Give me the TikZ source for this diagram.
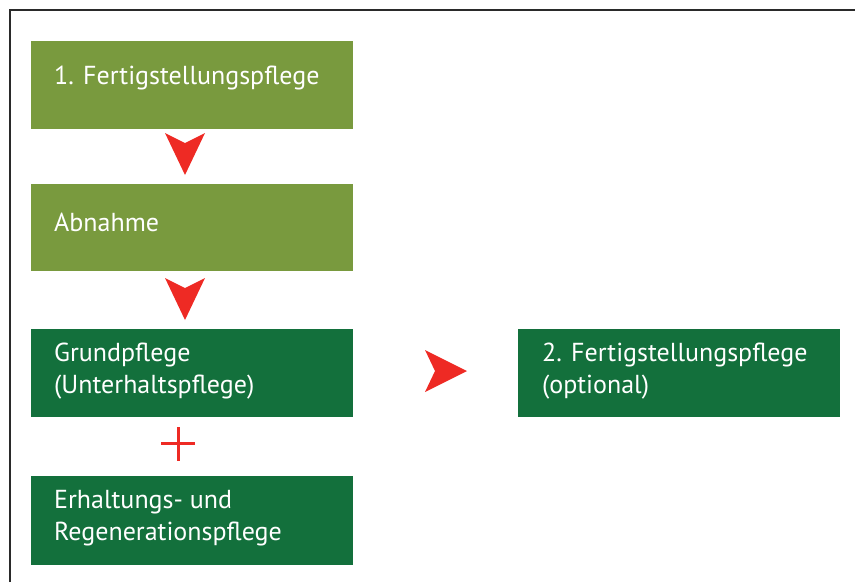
\documentclass[tikz,border=0pt]{standalone}
\usepackage{fontspec}
\setmainfont{PT Sans}
\definecolor{lgreen}{HTML}{799A3E}
\definecolor{dgreen}{HTML}{13703C}
\definecolor{ared}{HTML}{EE2A24}
\definecolor{frame}{HTML}{2A2A2A}
\begin{document}
\begin{tikzpicture}[x=1pt,y=-1pt,
  lbl/.style={text=white, font=\fontsize{26}{32}\selectfont, anchor=west, align=left, inner sep=0pt},
  tri/.style={fill=ared, draw=none}]
\useasboundingbox (0,0) rectangle (855,582);
\draw[frame, line width=1.5pt] (10,582) -- (10,10) -- (855,10);
% boxes
\fill[lgreen] (31,41) rectangle (353,129);
\fill[lgreen] (31,184) rectangle (353,271);
\fill[dgreen] (31,329) rectangle (353,417);
\fill[dgreen] (31,476) rectangle (353,565);
\fill[dgreen] (518,329) rectangle (840,417);
\node[lbl] (t1) at (54,78) {1. Fertigstellungspflege};
\node[lbl] (t2) at (54,222) {Abnahme};
\node[lbl] (t3) at (54,371) {Grundpflege\\(Unterhaltspflege)};
\node[lbl] (t4) at (54,518) {Erhaltungs- und\\Regenerationspflege};
\node[lbl] (t5) at (542,371) {2. Fertigstellungspflege\\(optional)};
% arrows
\fill[tri] (165,133) -- (185,143) -- (205,133) -- (185,175) -- cycle;
\fill[tri] (165,278) -- (185,288) -- (205,278) -- (185,320) -- cycle;
\fill[tri] (425,350) -- (435,371) -- (425,392) -- (467,371) -- cycle;
% plus
\draw[ared, line width=3pt] (161,443) -- (195,443) (178,427) -- (178,461);
\end{tikzpicture}
\end{document}
